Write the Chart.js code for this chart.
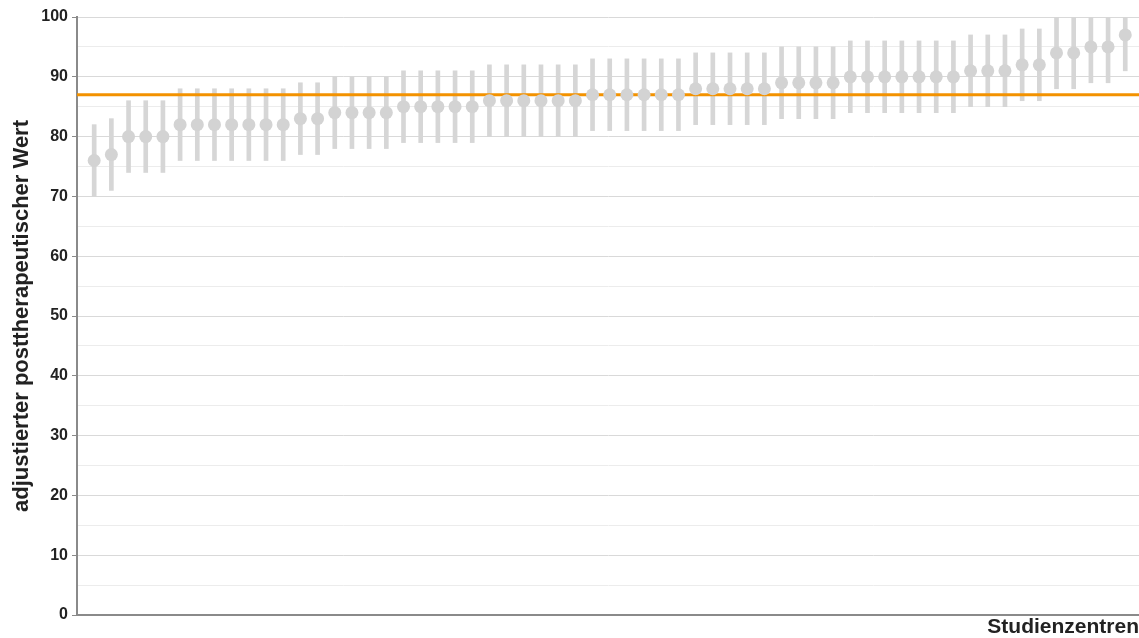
<!DOCTYPE html>
<html>
<head>
<meta charset="utf-8">
<script src="https://cdn.jsdelivr.net/npm/chart.js@4"></script>
<style>
  html, body { margin: 0; padding: 0; background: #ffffff; }
  #wrap { width: 1139px; height: 638px; }
</style>
</head>
<body>
<div id="wrap"><canvas id="c" width="1139" height="638"></canvas></div>
<script>
// Study centres, sorted by adjusted post-therapeutic value
const centres = [
   1,  2,  3,  4,  5,  6,  7,  8,  9, 10,
  11, 12, 13, 14, 15, 16, 17, 18, 19, 20,
  21, 22, 23, 24, 25, 26, 27, 28, 29, 30,
  31, 32, 33, 34, 35, 36, 37, 38, 39, 40,
  41, 42, 43, 44, 45, 46, 47, 48, 49, 50,
  51, 52, 53, 54, 55, 56, 57, 58, 59, 60,
  61
];

// Adjusted value per centre
const values = [
  76, 77, 80, 80, 80, 82, 82, 82, 82, 82,
  82, 82, 83, 83, 84, 84, 84, 84, 85, 85,
  85, 85, 85, 86, 86, 86, 86, 86, 86, 87,
  87, 87, 87, 87, 87, 88, 88, 88, 88, 88,
  89, 89, 89, 89, 90, 90, 90, 90, 90, 90,
  90, 91, 91, 91, 92, 92, 94, 94, 95, 95,
  97
];

// Interval bounds per centre
const lower = [
  70, 71, 74, 74, 74, 76, 76, 76, 76, 76,
  76, 76, 77, 77, 78, 78, 78, 78, 79, 79,
  79, 79, 79, 80, 80, 80, 80, 80, 80, 81,
  81, 81, 81, 81, 81, 82, 82, 82, 82, 82,
  83, 83, 83, 83, 84, 84, 84, 84, 84, 84,
  84, 85, 85, 85, 86, 86, 88, 88, 89, 89,
  91
];
const upper = [
  82, 83, 86, 86, 86, 88, 88, 88, 88, 88,
  88, 88, 89, 89, 90, 90, 90, 90, 91, 91,
  91, 91, 91, 92, 92, 92, 92, 92, 92, 93,
  93, 93, 93, 93, 93, 94, 94, 94, 94, 94,
  95, 95, 95, 95, 96, 96, 96, 96, 96, 96,
  96, 97, 97, 97, 98, 98, 100, 100, 100, 100,
  100
];

// Overall reference value
const referenceValue = 87;

// Axis range
const yMin = 0, yMax = 100, yStep = 5;
const xMin = 0, xMax = 61.8;

const GREY = '#d3d3d3';
const ORANGE = '#f39200';
const AXIS = '#8a8a8a';
const TEXT = '#222222';
const FONT = 'Liberation Sans, Arial, sans-serif';

const intervals = centres.map((c, i) => ({ x: c, y: [lower[i], upper[i]] }));
const points = centres.map((c, i) => ({ x: c, y: values[i] }));
const refLine = [{ x: xMin, y: referenceValue }, { x: xMax, y: referenceValue }];

new Chart(document.getElementById('c'), {
  type: 'scatter',
  data: {
    datasets: [
      {
        type: 'bar',
        data: intervals,
        backgroundColor: '#d6d6d6',
        borderWidth: 0,
        barThickness: 4,
        order: 3
      },
      {
        type: 'line',
        data: refLine,
        borderColor: ORANGE,
        borderWidth: 3,
        pointRadius: 0,
        fill: false,
        order: 2
      },
      {
        type: 'scatter',
        data: points,
        backgroundColor: GREY,
        borderWidth: 0,
        pointRadius: 6.5,
        order: 1
      }
    ]
  },
  options: {
    responsive: false,
    animation: false,
    layout: { autoPadding: false, padding: { top: 17, right: 0, bottom: 0, left: 0 } },
    plugins: {
      legend: { display: false },
      tooltip: { enabled: false }
    },
    scales: {
      x: {
        type: 'linear',
        min: xMin,
        max: xMax,
        offset: false,
        grid: { display: false },
        ticks: { display: false },
        border: { display: true, color: AXIS, width: 2 },
        title: {
          display: true,
          text: 'Studienzentren',
          align: 'end',
          color: TEXT,
          font: { family: FONT, size: 21, weight: 'bold' },
          padding: { top: 0, bottom: -2 }
        },
        afterFit: (scale) => {
          scale.height = 23;
          scale.paddingLeft = 0;
          scale.paddingRight = 0;
        }
      },
      y: {
        type: 'linear',
        min: yMin,
        max: yMax,
        ticks: {
          stepSize: yStep,
          padding: 4,
          color: TEXT,
          font: { family: FONT, size: 16, weight: 'bold' },
          callback: (v) => (v % 10 === 0 ? v : '')
        },
        grid: {
          color: (ctx) => (ctx.tick && ctx.tick.value % 10 === 0 ? '#d9d9d9' : '#ececec'),
          tickColor: (ctx) => (ctx.tick && ctx.tick.value % 10 === 0 ? AXIS : 'rgba(0,0,0,0)'),
          tickLength: 5,
          lineWidth: 1
        },
        border: { display: true, color: AXIS, width: 2 },
        title: {
          display: true,
          text: 'adjustierter posttherapeutischer Wert',
          color: TEXT,
          font: { family: FONT, size: 22, weight: 'bold' },
          padding: { top: 9, bottom: 0 }
        },
        afterFit: (scale) => { scale.width = 77; }
      }
    }
  }
});
</script>
</body>
</html>
